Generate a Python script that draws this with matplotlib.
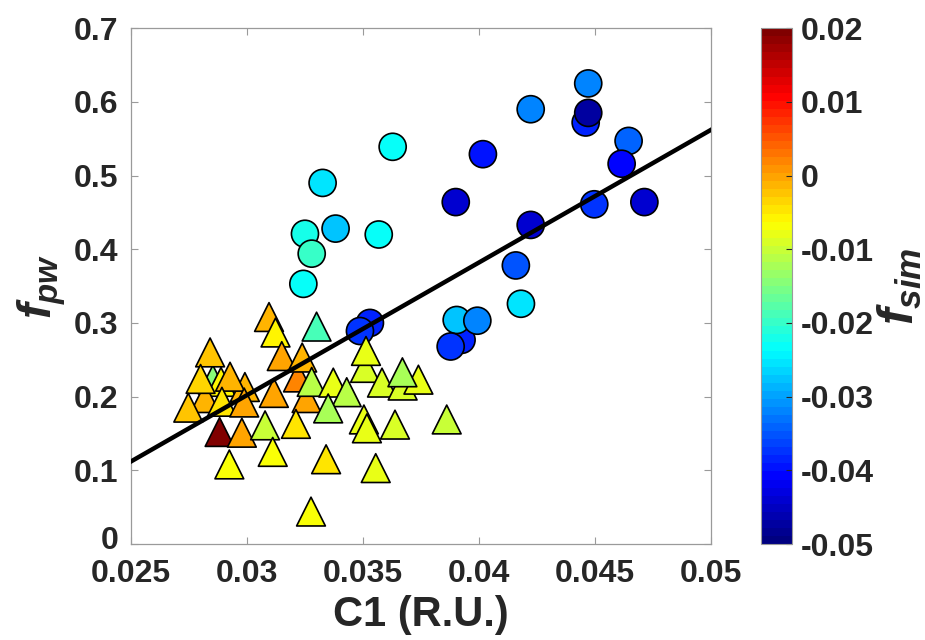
import numpy as np
import matplotlib
matplotlib.use("Agg")
import matplotlib.pyplot as plt
from matplotlib.colors import LinearSegmentedColormap, Normalize
from matplotlib.transforms import ScaledTranslation

# ---------------------------------------------------------
# data
# ---------------------------------------------------------
# circles
circ_x = [0.03628, 0.03326, 0.03250, 0.03243, 0.03279, 0.03382, 0.03568,
          0.04471, 0.04223, 0.04460, 0.04471, 0.04645, 0.04615, 0.04017,
          0.03900, 0.04497, 0.04713, 0.04223, 0.04159, 0.04181, 0.03925,
          0.03904, 0.03993, 0.03878, 0.03530, 0.03487]
circ_y = [0.539, 0.490, 0.421, 0.353, 0.394, 0.428, 0.420,
          0.625, 0.590, 0.572, 0.585, 0.547, 0.516, 0.529,
          0.464, 0.461, 0.464, 0.433, 0.378, 0.326, 0.277,
          0.304, 0.303, 0.268, 0.300, 0.289]
circ_f = [-0.0230, -0.0256, -0.0225, -0.0232, -0.0194, -0.0272, -0.0227,
          -0.0325, -0.0325, -0.0390, -0.0478, -0.0336, -0.0410, -0.0400,
          -0.0444, -0.0369, -0.0444, -0.0444, -0.0347, -0.0258, -0.0390,
          -0.0281, -0.0325, -0.0369, -0.0380, -0.0369]

# triangles
tri_x = [0.02853, 0.02888, 0.02819, 0.03220, 0.02841, 0.02991, 0.02800,
         0.02927, 0.02747, 0.02892, 0.02988, 0.03116, 0.03095, 0.03123,
         0.03150, 0.03238, 0.03300, 0.03257, 0.03279, 0.03372, 0.03430,
         0.03350, 0.02882, 0.02978, 0.03078, 0.03211, 0.03111, 0.02924,
         0.03341, 0.03555, 0.03276, 0.03509, 0.03513, 0.03582, 0.03671,
         0.03739, 0.03670, 0.03504, 0.03517, 0.03638, 0.03861]
tri_y = [0.223, 0.220, 0.198, 0.226, 0.260, 0.213, 0.224,
         0.227, 0.185, 0.193, 0.192, 0.205, 0.308, 0.287,
         0.255, 0.253, 0.295, 0.198, 0.220, 0.219, 0.206,
         0.184, 0.152, 0.151, 0.161, 0.163, 0.125, 0.108,
         0.115, 0.103, 0.044, 0.239, 0.262, 0.219, 0.215,
         0.223, 0.233, 0.169, 0.157, 0.162, 0.169]
tri_f = [-0.0150, -0.0052, -0.0010, 0.0015, -0.0019, -0.0014, -0.0031,
         -0.0008, -0.0019, -0.0041, 0.0003, -0.0005, -0.0008, -0.0052,
         -0.0005, -0.0008, -0.0190, 0.0003, -0.0110, -0.0084, -0.0117,
         -0.0128, 0.0200, 0.0003, -0.0106, -0.0041, -0.0073, -0.0070,
         -0.0041, -0.0084, -0.0063, -0.0095, -0.0084, -0.0095, -0.0095,
         -0.0084, -0.0128, -0.0084, -0.0084, -0.0095, -0.0106]

# fitted line
fit_x = [0.025, 0.050]
fit_y = [0.112, 0.562]

x_ticks = [0.025, 0.03, 0.035, 0.04, 0.045, 0.05]
x_labels = ['0.025', '0.03', '0.035', '0.04', '0.045', '0.05']
y_ticks = [0, 0.1, 0.2, 0.3, 0.4, 0.5, 0.6, 0.7]
y_labels = ['0', '0.1', '0.2', '0.3', '0.4', '0.5', '0.6', '0.7']
c_ticks = [-0.05, -0.04, -0.03, -0.02, -0.01, 0, 0.01, 0.02]
c_labels = ['-0.05', '-0.04', '-0.03', '-0.02', '-0.01', '0', '0.01', '0.02']

# ---------------------------------------------------------
# style
# ---------------------------------------------------------
plt.rcParams['font.family'] = ['Liberation Sans', 'DejaVu Sans']
plt.rcParams['font.weight'] = 'bold'
plt.rcParams['mathtext.fontset'] = 'custom'
plt.rcParams['mathtext.it'] = 'Liberation Sans:italic:bold'
plt.rcParams['mathtext.rm'] = 'Liberation Sans:bold'

TXT = '#262626'
AX = '#9a9a9a'

# matlab style jet, 64 levels
jet_seg = {
    'red':   [(0, 0, 0), (0.375, 0, 0), (0.625, 1, 1), (0.875, 1, 1), (1, 0.5, 0.5)],
    'green': [(0, 0, 0), (0.125, 0, 0), (0.375, 1, 1), (0.625, 1, 1), (0.875, 0, 0), (1, 0, 0)],
    'blue':  [(0, 0.5, 0.5), (0.125, 1, 1), (0.375, 1, 1), (0.625, 0, 0), (1, 0, 0)],
}
cmap = LinearSegmentedColormap('mjet', jet_seg, N=64)
norm = Normalize(vmin=-0.05, vmax=0.02)

fig = plt.figure(figsize=(9.25, 6.4), dpi=100)
ax = fig.add_axes([0.1416, 0.15, 0.627, 0.806])
cax = fig.add_axes([0.8227, 0.15, 0.0335, 0.806])

ax.scatter(circ_x, circ_y, c=circ_f, cmap=cmap, norm=norm, marker='o',
           s=380, edgecolors='black', linewidths=1.2, zorder=2)
sc = ax.scatter(tri_x, tri_y, c=tri_f, cmap=cmap, norm=norm, marker='^',
                s=430, edgecolors='black', linewidths=1.2, zorder=3)
ax.plot(fit_x, fit_y, color='black', lw=3.2, zorder=4)

ax.set_xlim(0.025, 0.05)
ax.set_ylim(0, 0.7)
ax.set_xticks(x_ticks)
ax.set_xticklabels(x_labels)
ax.set_yticks(y_ticks)
ax.set_yticklabels(y_labels)
ax.tick_params(direction='in', length=5, width=0.8, color=AX, labelsize=23,
               labelcolor=TXT, top=True, right=True)
ax.tick_params(axis='x', pad=11)
ax.tick_params(axis='y', pad=9)
for sp in ax.spines.values():
    sp.set_color(AX)
    sp.set_linewidth(0.9)

# nudge the "0" on y a bit up so it does not sit on "0.025"
zero_lbl = ax.get_yticklabels()[0]
zero_lbl.set_transform(zero_lbl.get_transform() + ScaledTranslation(0, 5 / 72, fig.dpi_scale_trans))

ax.set_xlabel('C1 (R.U.)', fontsize=30, fontweight='bold', color=TXT, labelpad=4)
ax.set_ylabel(r'$f_{pw}$', fontsize=34, color=TXT, labelpad=4)

cb = fig.colorbar(sc, cax=cax)
cb.set_ticks(c_ticks)
cb.set_ticklabels(c_labels)
cb.ax.tick_params(direction='in', length=4, width=0.8, color=TXT,
                  labelsize=23, labelcolor=TXT, pad=6)
cb.outline.set_edgecolor(AX)
cb.outline.set_linewidth(0.8)
cb.set_label(r'$f_{sim}$', fontsize=36, color=TXT, labelpad=2)

fig.savefig('out.png', dpi=100)
